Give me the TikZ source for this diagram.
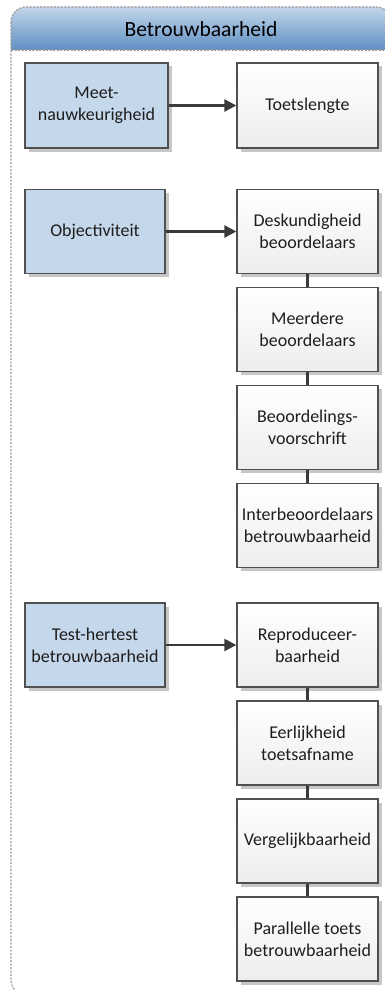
\documentclass[tikz,border=0pt]{standalone}
\usepackage{fontspec}
\setmainfont{Carlito}
\usetikzlibrary{arrows.meta,shadows,positioning}
\definecolor{boxblue}{HTML}{C5D7EA}
\definecolor{edgegray}{HTML}{505050}
\definecolor{linkgray}{HTML}{3A3A3A}
\definecolor{frame}{HTML}{999999}
\definecolor{headtop}{HTML}{C3D6EA}
\definecolor{headbot}{HTML}{5E8FC3}
\definecolor{txt}{HTML}{1E1E1E}
\tikzset{
  base/.style={draw=edgegray, line width=1.3pt, rectangle, align=center,
    text=txt, font=\fontsize{18}{21.7}\selectfont,
    drop shadow={shadow xshift=3.5pt, shadow yshift=-3.5pt, fill=black, opacity=0.22}},
  bluebox/.style={base, fill=boxblue, minimum width=140pt, minimum height=84pt},
  greybox/.style={base, top color=white, bottom color=black!7,
    minimum width=141pt, minimum height=84pt},
  link/.style={draw=linkgray, line width=2.4pt},
  arrowlink/.style={link, -{Triangle[length=12pt,width=12pt]}},
  framedash/.style={draw=frame, dash pattern=on 2.2pt off 1.3pt, line width=1.1pt},
}
\begin{document}
\begin{tikzpicture}[x=1pt,y=-1pt]
\useasboundingbox (0,0) rectangle (385,990);
\clip (0,0) rectangle (385,990);

% outer group frame with gradient title bar
\path[top color=headtop, bottom color=headbot]
  (11,50) -- (11,22) arc[start angle=180,end angle=90,radius=15pt] -- (376,7)
  arc[start angle=90,end angle=0,radius=15pt] -- (391,50) -- cycle;
\draw[framedash, rounded corners=15pt] (11,7) rectangle (391,995);
\draw[framedash] (11,50) -- (391,50);
\node[font=\fontsize{21.6}{25}\selectfont, text=black] (title) at (201,29) {Betrouwbaarheid};

% first row
\node[bluebox, minimum width=143pt, minimum height=85pt] (meet) at (96.5,105.5) {Meet-\\nauwkeurigheid};
\node[greybox, minimum height=85pt] (lengte) at (307.5,105.5) {Toetslengte};

% objectivity chain
\node[bluebox] (obj) at (95,231.5) {Objectiviteit};
\node[greybox] (desk) at (307.5,231.5) {Deskundigheid\\beoordelaars};
\node[greybox] (meer) at (307.5,329.5) {Meerdere\\beoordelaars};
\node[greybox] (voor) at (307.5,427.5) {Beoordelings-\\voorschrift};
\node[greybox] (inter) at (307.5,525.5) {Interbeoordelaars\\betrouwbaarheid};

% test-retest chain
\node[bluebox] (test) at (95,645) {Test-hertest\\betrouwbaarheid};
\node[greybox] (repro) at (307.5,645) {Reproduceer-\\baarheid};
\node[greybox] (eerl) at (307.5,743) {Eerlijkheid\\toetsafname};
\node[greybox] (verg) at (307.5,841) {Vergelijkbaarheid};
\node[greybox] (para) at (307.5,939) {Parallelle toets\\betrouwbaarheid};

% connectors
\draw[arrowlink] (meet) -- (lengte);
\draw[arrowlink] (obj) -- (desk);
\draw[arrowlink] (test) -- (repro);
\draw[link] (desk) -- (meer);
\draw[link] (meer) -- (voor);
\draw[link] (voor) -- (inter);
\draw[link] (repro) -- (eerl);
\draw[link] (eerl) -- (verg);
\draw[link] (verg) -- (para);
\end{tikzpicture}
\end{document}
